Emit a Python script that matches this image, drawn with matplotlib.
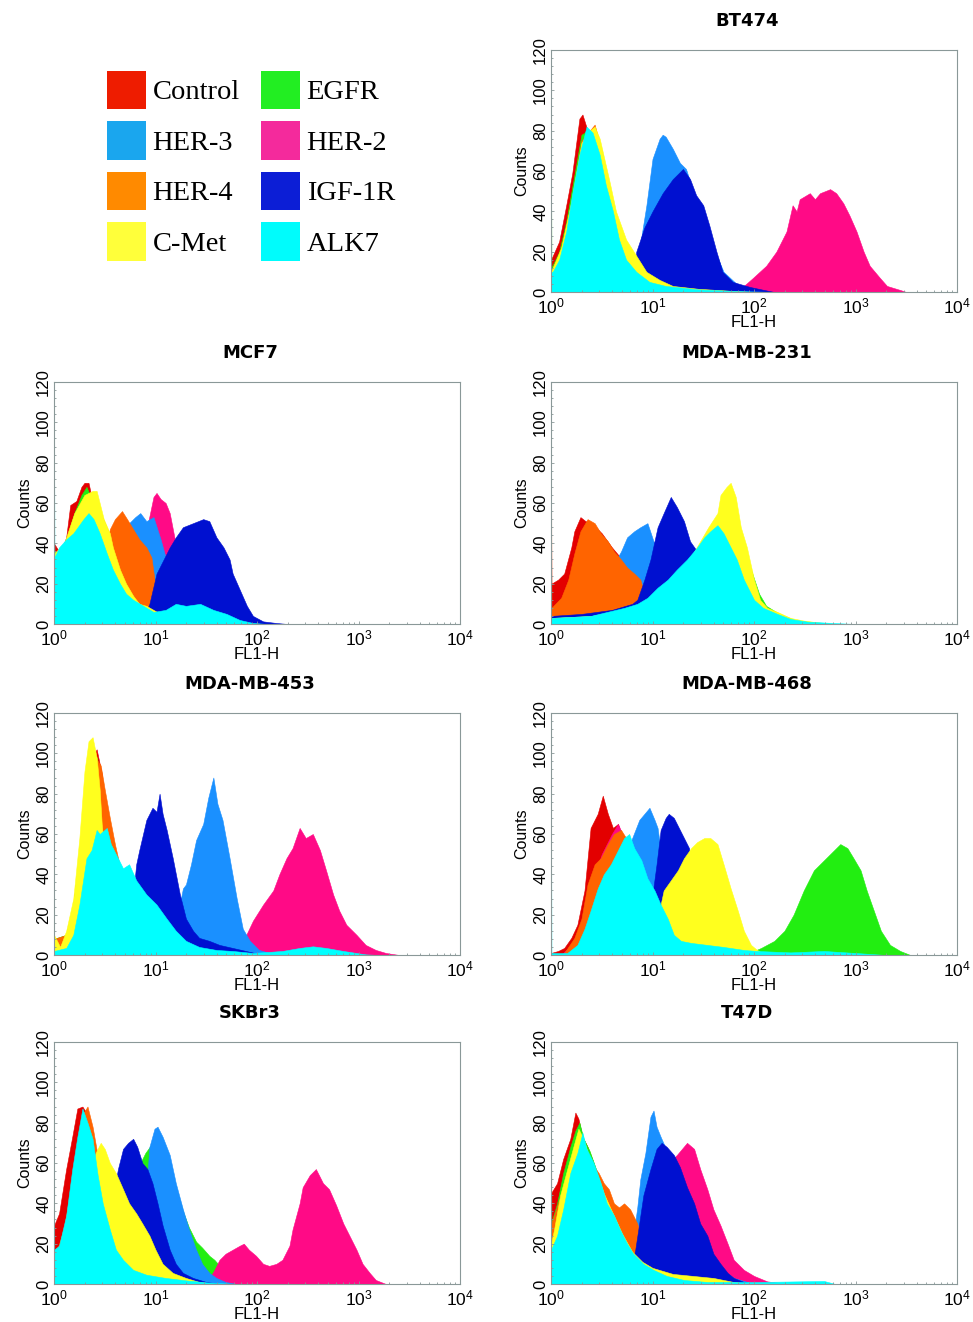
import matplotlib.pyplot as plt
import numpy as np
from matplotlib.patches import Patch
from matplotlib.ticker import LogLocator, MultipleLocator, NullFormatter

plt.rcParams['font.family'] = ['Liberation Sans', 'DejaVu Sans']
plt.rcParams['mathtext.fontset'] = 'custom'
plt.rcParams['mathtext.rm'] = 'Liberation Sans'

# markers, in drawing order (back to front)
markers = ['Control', 'EGFR', 'HER-2', 'HER-3', 'HER-4', 'IGF-1R', 'C-Met', 'ALK7']
plot_colors = ['#e30000', '#22ee11', '#ff0a86', '#1a90ff', '#ff6400', '#0010d0', '#ffff1e', '#00ffff']
legend_colors = ['#ee1c00', '#22ee22', '#f42a9c', '#1aa6ee', '#ff8a00', '#0c1ed6', '#ffff3a', '#00fcfc']
legend_order = ['Control', 'HER-3', 'HER-4', 'C-Met', 'EGFR', 'HER-2', 'IGF-1R', 'ALK7']

# histogram outlines: (log10 FL1-H, counts)
bt474 = {
    'Control': [(0,16),(0.08,25),(0.15,43),(0.21,59),(0.28,86),(0.31,88),(0.36,80),(0.42,72),(0.5,58),(0.6,40),(0.7,25),(0.8,14),(0.95,6),(1.1,3),(1.4,1),(1.8,0)],
    'EGFR': [(0,80),(0.004,12),(0.08,20),(0.15,35),(0.22,55),(0.3,78),(0.36,80),(0.42,74),(0.5,60),(0.6,40),(0.7,25),(0.8,14),(0.95,6),(1.2,2),(1.8,0)],
    'HER-2': [(1.8,0),(1.9,3),(1.99,7),(2.12,13),(2.22,20),(2.32,30),(2.38,43),(2.42,40),(2.45,46),(2.55,49),(2.6,46),(2.65,49),(2.75,51),(2.81,49),(2.88,44),(2.94,38),(3.01,30),(3.08,20),(3.14,13),(3.24,7),(3.31,3),(3.44,1),(3.5,0)],
    'HER-3': [(0.75,0),(0.82,8),(0.87,21),(0.94,43),(1.0,66),(1.07,76),(1.1,78),(1.13,77),(1.2,71),(1.27,64),(1.33,61),(1.4,50),(1.5,38),(1.6,22),(1.7,10),(1.85,3),(2.0,0)],
    'HER-4': [(0,10),(0.1,22),(0.2,45),(0.3,75),(0.43,83),(0.5,70),(0.6,45),(0.7,28),(0.8,15),(0.95,6),(1.2,2),(1.6,0)],
    'IGF-1R': [(0.78,0),(0.81,3),(0.84,20),(0.92,32),(1.0,40),(1.1,49),(1.2,56),(1.3,61),(1.37,56),(1.43,48),(1.5,43),(1.56,33),(1.63,20),(1.69,10),(1.79,5),(1.96,2.5),(2.1,1),(2.2,0)],
    'C-Met': [(0,10),(0.1,22),(0.2,45),(0.3,74),(0.38,80),(0.43,82),(0.48,76),(0.58,54),(0.64,40),(0.74,26),(0.84,18),(0.94,10),(1.07,6),(1.2,3),(1.45,1.6),(1.8,0.5),(2.0,0)],
    'ALK7': [(0,10),(0.016,10),(0.08,16),(0.15,30),(0.21,49),(0.28,68),(0.35,82),(0.41,79),(0.48,68),(0.54,53),(0.61,40),(0.67,26),(0.74,16),(0.84,10),(0.97,5),(1.13,3),(1.45,1.3),(1.8,0.5),(2.2,0)],
}

mcf7 = {
    'Control': [(0,40),(0.06,35),(0.12,43),(0.16,59),(0.22,61),(0.27,68),(0.3,70),(0.34,70),(0.37,63),(0.42,60),(0.5,50),(0.6,38),(0.7,26),(0.8,16),(0.9,10),(1.1,6),(1.4,3),(1.8,1),(2.2,0)],
    'EGFR': [(0,36),(0.06,35),(0.12,42),(0.2,55),(0.27,64),(0.32,68),(0.37,62),(0.42,58),(0.5,48),(0.6,36),(0.7,24),(0.8,15),(0.9,9),(1.1,5),(1.4,2),(1.8,0.5),(2.2,0)],
    'HER-2': [(0.5,0),(0.6,20),(0.7,38),(0.8,48),(0.88,50),(0.93,51),(0.98,63),(1.01,65),(1.05,62),(1.1,60),(1.14,55),(1.19,42),(1.22,38),(1.3,30),(1.4,22),(1.5,15),(1.6,8),(1.75,3),(2.0,0)],
    'HER-3': [(0.4,0),(0.5,20),(0.6,38),(0.7,48),(0.8,53),(0.85,55),(0.91,51),(0.98,53),(1.05,42),(1.1,33),(1.2,25),(1.3,18),(1.45,10),(1.6,4),(1.8,1),(2.0,0)],
    'HER-4': [(0.3,0),(0.4,15),(0.5,35),(0.55,47),(0.6,52),(0.67,56),(0.72,52),(0.78,47),(0.84,42),(0.91,38),(0.96,33),(0.99,22),(1.03,12),(1.1,6),(1.3,2),(1.6,0)],
    'IGF-1R': [(0.85,0),(0.94,10),(1.01,25),(1.08,32),(1.14,38),(1.2,43),(1.27,48),(1.37,50),(1.47,52),(1.53,51),(1.6,43),(1.67,38),(1.73,32),(1.76,25),(1.83,17),(1.9,9),(1.96,4),(2.06,1.3),(2.19,0.5),(2.3,0)],
    'C-Met': [(0,35),(0.1,40),(0.2,55),(0.3,64),(0.38,66),(0.42,66),(0.49,52),(0.55,45),(0.58,38),(0.65,27),(0.71,20),(0.78,14),(0.84,10),(0.91,9),(0.98,7),(1.05,5),(1.2,3),(1.5,1.5),(1.8,0.5),(2.1,0)],
    'ALK7': [(0,120),(0.004,33),(0.05,38),(0.12,42),(0.19,45),(0.29,52),(0.34,55),(0.39,52),(0.45,45),(0.52,35),(0.58,27),(0.65,20),(0.71,15),(0.78,12),(0.88,9),(0.98,6),(1.1,7),(1.2,10),(1.3,9),(1.44,10),(1.57,7),(1.7,5),(1.83,2),(1.96,0.5),(2.1,0)],
}

mda231 = {
    'Control': [(0,73),(0.004,20),(0.07,22),(0.13,25),(0.2,38),(0.23,46),(0.29,53),(0.34,51),(0.4,50),(0.5,45),(0.6,38),(0.7,32),(0.8,25),(0.9,18),(1.0,10),(1.2,5),(1.5,2),(1.8,0)],
    'EGFR': [(0,5),(0.5,5),(0.9,8),(1.1,15),(1.3,25),(1.5,40),(1.65,50),(1.75,55),(1.85,45),(1.95,30),(2.05,15),(2.12,9),(2.25,5),(2.4,2),(2.7,0)],
    'HER-2': [(0,4),(0.5,10),(0.7,25),(0.85,35),(1.0,30),(1.2,15),(1.5,5),(1.8,0)],
    'HER-3': [(0,5),(0.3,8),(0.5,18),(0.6,28),(0.69,36),(0.75,43),(0.82,46),(0.88,48),(0.95,50),(1.01,41),(1.05,38),(1.15,30),(1.3,18),(1.45,8),(1.6,3),(1.9,0)],
    'HER-4': [(0,120),(0.004,8),(0.1,13),(0.17,22),(0.23,35),(0.29,46),(0.36,52),(0.43,50),(0.49,45),(0.56,41),(0.62,36),(0.69,32),(0.75,28),(0.82,25),(0.88,22),(0.92,15),(0.95,8),(1.05,4),(1.3,1),(1.6,0)],
    'IGF-1R': [(0,4),(0.3,5),(0.6,7),(0.8,10),(0.85,12),(0.92,22),(0.98,32),(1.05,48),(1.11,55),(1.18,63),(1.24,58),(1.31,51),(1.37,41),(1.44,36),(1.54,25),(1.65,12),(1.8,5),(2.0,2),(2.2,0)],
    'C-Met': [(0,3),(0.4,4),(0.8,8),(1.0,12),(1.2,22),(1.4,35),(1.55,48),(1.64,55),(1.67,64),(1.73,68),(1.77,70),(1.82,63),(1.87,48),(1.93,38),(2.0,22),(2.06,12),(2.13,8),(2.23,6),(2.36,3),(2.49,1.7),(2.68,0.5),(2.8,0)],
    'ALK7': [(0,3),(0.39,4),(0.72,8),(0.85,10),(0.95,13),(1.05,18),(1.15,22),(1.24,27),(1.34,32),(1.44,38),(1.51,43),(1.57,46),(1.64,49),(1.7,45),(1.77,38),(1.83,32),(1.9,22),(2.0,12),(2.09,8),(2.23,5),(2.36,2.5),(2.52,1.2),(2.78,0.5),(3.0,0)],
}

mda453 = {
    'Control': [(0,8),(0.06,4),(0.12,10),(0.19,25),(0.25,50),(0.3,80),(0.35,95),(0.42,102),(0.47,90),(0.5,76),(0.55,60),(0.6,46),(0.7,38),(0.8,28),(0.95,18),(1.1,10),(1.3,5),(1.6,2),(2.0,0)],
    'EGFR': [(0,8),(0.12,10),(0.19,25),(0.25,50),(0.3,78),(0.36,92),(0.42,98),(0.47,88),(0.5,78),(0.55,64),(0.6,48),(0.7,36),(0.8,26),(0.95,16),(1.1,9),(1.3,4),(1.6,1),(2.0,0)],
    'HER-2': [(1.8,0),(1.88,8.5),(1.96,17),(2.06,25),(2.16,32),(2.22,40),(2.29,48),(2.35,53),(2.42,63),(2.48,58),(2.55,60),(2.62,52),(2.68,42),(2.75,30),(2.81,22),(2.88,15),(2.98,10),(3.07,5),(3.17,2.5),(3.27,1),(3.4,0)],
    'HER-3': [(1.0,0),(1.1,5),(1.2,15),(1.27,33),(1.3,35),(1.35,45),(1.4,57),(1.47,65),(1.52,78),(1.57,88),(1.61,75),(1.66,67),(1.73,48),(1.8,28),(1.86,13),(1.93,7),(2.02,2.5),(2.16,0.5),(2.3,0)],
    'HER-4': [(0,8),(0.12,10),(0.19,25),(0.25,50),(0.3,78),(0.36,92),(0.42,97),(0.46,94),(0.5,82),(0.55,68),(0.6,55),(0.64,46),(0.7,37),(0.8,27),(0.95,17),(1.1,9),(1.3,4),(1.6,1),(2.0,0)],
    'IGF-1R': [(0.6,0),(0.7,10),(0.78,30),(0.81,45),(0.84,52),(0.91,67),(0.97,73),(1.01,71),(1.04,80),(1.07,70),(1.11,62),(1.17,48),(1.24,30),(1.3,18),(1.37,12),(1.43,8.5),(1.53,7),(1.63,5),(1.76,3.5),(1.89,2),(2.02,0.5),(2.2,0)],
    'C-Met': [(0,10),(0.06,4),(0.12,12),(0.19,28),(0.25,58),(0.3,91),(0.34,106),(0.38,108),(0.42,98),(0.45,82),(0.47,65),(0.5,50),(0.6,40),(0.7,30),(0.85,18),(1.0,10),(1.2,4),(1.5,1),(1.8,0)],
    'ALK7': [(0,2),(0.12,3.5),(0.19,10),(0.25,25),(0.32,48),(0.37,52),(0.42,62),(0.45,60),(0.52,63),(0.56,55),(0.61,50),(0.68,43),(0.74,45),(0.81,37),(0.91,30),(1.01,25),(1.11,18),(1.2,12),(1.3,7),(1.43,4),(1.6,2.5),(1.76,2),(1.96,1),(2.25,2),(2.42,3.5),(2.55,4.3),(2.68,3.5),(2.85,2),(3.07,0.3),(3.2,0)],
}

mda468 = {
    'Control': [(0,1),(0.07,2),(0.13,3.5),(0.2,8.5),(0.26,15),(0.33,32),(0.39,63),(0.46,70),(0.51,79),(0.56,70),(0.61,63),(0.66,65),(0.72,55),(0.8,45),(0.9,32),(1.0,20),(1.15,10),(1.3,5),(1.6,2),(2.0,0)],
    'EGFR': [(1.9,0),(2.0,2),(2.07,3.5),(2.2,7),(2.3,12),(2.39,20),(2.49,32),(2.59,42),(2.69,47),(2.79,52),(2.85,55),(2.92,53),(2.98,48),(3.05,42),(3.11,32),(3.18,22),(3.25,12),(3.34,5),(3.44,2),(3.54,0)],
    'HER-2': [(0.1,0),(0.2,5),(0.3,15),(0.4,35),(0.5,50),(0.6,60),(0.66,65),(0.72,58),(0.8,48),(0.9,35),(1.0,22),(1.15,10),(1.3,5),(1.6,1),(1.9,0)],
    'HER-3': [(0.3,0),(0.4,5),(0.5,15),(0.6,30),(0.7,45),(0.8,58),(0.87,67),(0.92,70),(0.97,73),(1.02,67),(1.05,63),(1.08,52),(1.15,42),(1.25,30),(1.4,15),(1.6,5),(1.9,1),(2.1,0)],
    'HER-4': [(0.1,0),(0.13,1),(0.23,8.5),(0.3,18),(0.36,35),(0.43,45),(0.49,48),(0.56,55),(0.62,60),(0.69,62),(0.74,58),(0.8,50),(0.9,38),(1.0,25),(1.15,12),(1.3,5),(1.6,1),(1.9,0)],
    'IGF-1R': [(0.8,0),(0.9,10),(1.0,30),(1.04,45),(1.08,62),(1.13,68),(1.16,70),(1.21,68),(1.26,63),(1.31,58),(1.36,53),(1.38,45),(1.42,30),(1.5,15),(1.6,6),(1.8,2),(2.0,0)],
    'C-Met': [(0.9,0),(1.0,10),(1.08,25),(1.11,32),(1.18,37),(1.25,42),(1.31,48),(1.38,53),(1.44,56),(1.51,58),(1.57,58),(1.64,55),(1.7,45),(1.77,33),(1.84,22),(1.9,12),(1.97,5),(2.03,2.5),(2.1,0.5),(2.2,0)],
    'ALK7': [(0,96),(0.004,1),(0.16,1),(0.26,5),(0.33,13),(0.39,22),(0.46,33),(0.52,40),(0.59,45),(0.66,52),(0.72,58),(0.77,60),(0.82,53),(0.89,47),(0.95,38),(1.02,32),(1.08,25),(1.15,18),(1.21,10),(1.28,7),(1.38,6),(1.54,5),(1.7,4),(1.9,2.5),(2.03,2),(2.36,1.3),(2.69,2),(3.0,1),(3.3,0)],
}

skbr3 = {
    'Control': [(0,29),(0.05,35),(0.12,57),(0.18,73),(0.23,87),(0.28,88),(0.33,84),(0.38,74),(0.43,60),(0.5,45),(0.6,30),(0.7,18),(0.8,10),(0.95,5),(1.2,2),(1.5,0)],
    'EGFR': [(0,5),(0.3,10),(0.5,25),(0.7,45),(0.9,65),(1.0,72),(1.1,65),(1.2,48),(1.27,36),(1.33,28),(1.4,21),(1.46,18),(1.53,14),(1.58,12),(1.65,8),(1.75,4),(1.9,1),(2.0,0)],
    'HER-2': [(1.5,0),(1.58,7),(1.63,12),(1.69,15),(1.76,17),(1.83,19),(1.87,20),(1.92,17),(1.99,14),(2.06,10),(2.12,9),(2.19,10),(2.25,12),(2.32,19),(2.35,27),(2.42,40),(2.45,48),(2.52,54),(2.58,57),(2.65,50),(2.71,47),(2.78,39),(2.85,30),(2.91,24),(2.98,17),(3.04,10),(3.11,5.5),(3.17,2),(3.27,0)],
    'HER-3': [(0.6,0),(0.75,15),(0.85,35),(0.92,54),(0.94,68),(0.99,77),(1.02,78),(1.07,73),(1.14,64),(1.2,50),(1.27,37),(1.33,27),(1.4,17),(1.46,10),(1.53,5.5),(1.6,3),(1.69,1),(1.8,0)],
    'HER-4': [(0,12),(0.1,28),(0.2,58),(0.28,84),(0.33,88),(0.38,78),(0.45,58),(0.55,35),(0.65,18),(0.8,8),(1.0,3),(1.3,0)],
    'IGF-1R': [(0.35,0),(0.45,15),(0.55,35),(0.63,57),(0.68,67),(0.73,70),(0.78,72),(0.82,68),(0.87,60),(0.92,57),(0.97,50),(1.02,40),(1.07,29),(1.14,17),(1.2,10),(1.27,5.5),(1.37,3),(1.5,1),(1.65,0)],
    'C-Met': [(0.1,0),(0.2,15),(0.3,40),(0.41,65),(0.46,70),(0.5,67),(0.55,60),(0.61,55),(0.68,47),(0.74,40),(0.81,35),(0.87,30),(0.94,24),(1.0,17),(1.07,10),(1.17,5.5),(1.3,3),(1.43,1),(1.6,0)],
    'ALK7': [(0,17),(0.05,19),(0.12,34),(0.18,57),(0.23,73),(0.28,87),(0.33,80),(0.38,72),(0.43,54),(0.48,40),(0.55,27),(0.61,17),(0.68,12),(0.78,7),(0.91,4.6),(1.1,3),(1.3,1.8),(1.5,0.8),(1.8,0)],
}

t47d = {
    'Control': [(0,45),(0.06,50),(0.12,62),(0.19,72),(0.24,85),(0.27,82),(0.31,73),(0.36,68),(0.42,60),(0.5,48),(0.6,36),(0.7,25),(0.8,16),(0.9,10),(1.1,5),(1.4,2),(1.8,0)],
    'EGFR': [(0,30),(0.06,40),(0.12,55),(0.19,68),(0.24,76),(0.28,80),(0.32,72),(0.38,66),(0.45,56),(0.55,42),(0.65,30),(0.75,20),(0.85,12),(1.0,6),(1.3,2),(1.7,0)],
    'HER-2': [(0.8,0),(0.9,10),(1.0,30),(1.1,50),(1.2,62),(1.24,64),(1.29,67),(1.34,70),(1.41,67),(1.47,57),(1.54,47),(1.6,37),(1.67,29),(1.74,20),(1.8,12),(1.9,7),(2.0,4),(2.13,1.3),(2.26,0.5),(2.4,0)],
    'HER-3': [(0.7,0),(0.8,20),(0.85,38),(0.88,52),(0.93,65),(0.98,83),(1.01,86),(1.04,78),(1.08,73),(1.15,65),(1.25,50),(1.35,35),(1.45,22),(1.6,10),(1.8,3),(2.0,0)],
    'HER-4': [(0,95),(0.004,30),(0.1,45),(0.2,60),(0.3,68),(0.4,60),(0.47,55),(0.52,50),(0.57,47),(0.62,40),(0.67,38),(0.72,40),(0.78,37),(0.85,30),(0.88,24),(0.95,15),(1.05,8),(1.3,3),(1.6,0)],
    'IGF-1R': [(0.75,0),(0.83,17),(0.86,27),(0.91,44),(0.98,57),(1.04,67),(1.09,70),(1.14,68),(1.21,64),(1.27,58),(1.34,48),(1.41,40),(1.47,30),(1.54,24),(1.6,15),(1.67,10),(1.74,5.5),(1.8,3),(1.9,1),(2.0,0)],
    'C-Met': [(0,20),(0.03,27),(0.09,44),(0.16,57),(0.22,68),(0.27,77),(0.32,72),(0.38,62),(0.45,55),(0.52,45),(0.6,36),(0.7,25),(0.8,16),(0.9,11),(1.0,8),(1.2,5),(1.4,4),(1.6,3),(1.8,1),(2.0,0)],
    'ALK7': [(0,17),(0.06,24),(0.12,37),(0.19,55),(0.26,65),(0.31,75),(0.35,67),(0.42,60),(0.49,50),(0.55,40),(0.62,34),(0.68,27),(0.75,20),(0.81,15),(0.91,10),(1.01,7),(1.14,4),(1.31,2),(1.54,1),(2.03,1),(2.3,1.2),(2.69,1.5),(2.8,0)],
}

panels = [('BT474', bt474), ('MCF7', mcf7), ('MDA-MB-231', mda231),
          ('MDA-MB-453', mda453), ('MDA-MB-468', mda468),
          ('SKBr3', skbr3), ('T47D', t47d)]

W, H = 973, 1322
fig = plt.figure(figsize=(W / 100, H / 100), dpi=100)

col_left = [54, 551]
row_top = [50, 382, 713, 1042]
ax_w, ax_h = 406, 242
slots = [(0, 1), (1, 0), (1, 1), (2, 0), (2, 1), (3, 0), (3, 1)]

spine_col = '#8a9898'

for (name, data), (r, c) in zip(panels, slots):
    x0 = col_left[c]
    y0 = row_top[r]
    ax = fig.add_axes([x0 / W, 1 - (y0 + ax_h) / H, ax_w / W, ax_h / H])
    for m, col in zip(markers, plot_colors):
        pts = np.array(data[m], dtype=float)
        ax.fill_between(10 ** pts[:, 0], pts[:, 1], 0, color=col, lw=0.4, edgecolor=col)
    ax.set_xscale('log')
    ax.set_xlim(1, 1e4)
    ax.set_ylim(0, 120)
    ax.xaxis.set_major_locator(LogLocator(base=10, numticks=10))
    ax.xaxis.set_minor_locator(LogLocator(base=10, subs=np.arange(2, 10), numticks=10))
    ax.xaxis.set_minor_formatter(NullFormatter())
    ax.yaxis.set_major_locator(MultipleLocator(20))
    ax.yaxis.set_minor_locator(MultipleLocator(4))
    ax.tick_params(which='both', direction='in', color=spine_col, width=0.6)
    ax.tick_params(which='major', length=2.5)
    ax.tick_params(which='minor', length=1.5)
    ax.tick_params(axis='x', labelsize=12.5, pad=3.5)
    ax.tick_params(axis='y', labelsize=12, labelrotation=90, pad=2)
    for lab in ax.get_yticklabels():
        lab.set_verticalalignment('center')
    for sp in ax.spines.values():
        sp.set_color(spine_col)
        sp.set_linewidth(0.8)
    ax.set_xlabel('FL1-H', fontsize=12, labelpad=-1)
    ax.set_ylabel('Counts', fontsize=11.5, labelpad=3)
    ax.set_title(name, fontsize=13, fontweight='bold', family='DejaVu Sans', pad=17, x=0.483)

handles = [Patch(facecolor=legend_colors[markers.index(m)], edgecolor='none') for m in legend_order]
fig.legend(handles, legend_order, loc='upper left', bbox_to_anchor=(107 / W, 1 - 71 / H),
           ncol=2, frameon=False, prop={'family': 'Liberation Serif', 'size': 20.5},
           handlelength=1.38, handleheight=1.7, labelspacing=0.42, handletextpad=0.22,
           columnspacing=0.75, borderpad=0, borderaxespad=0)

fig.savefig('out.png', dpi=100)
